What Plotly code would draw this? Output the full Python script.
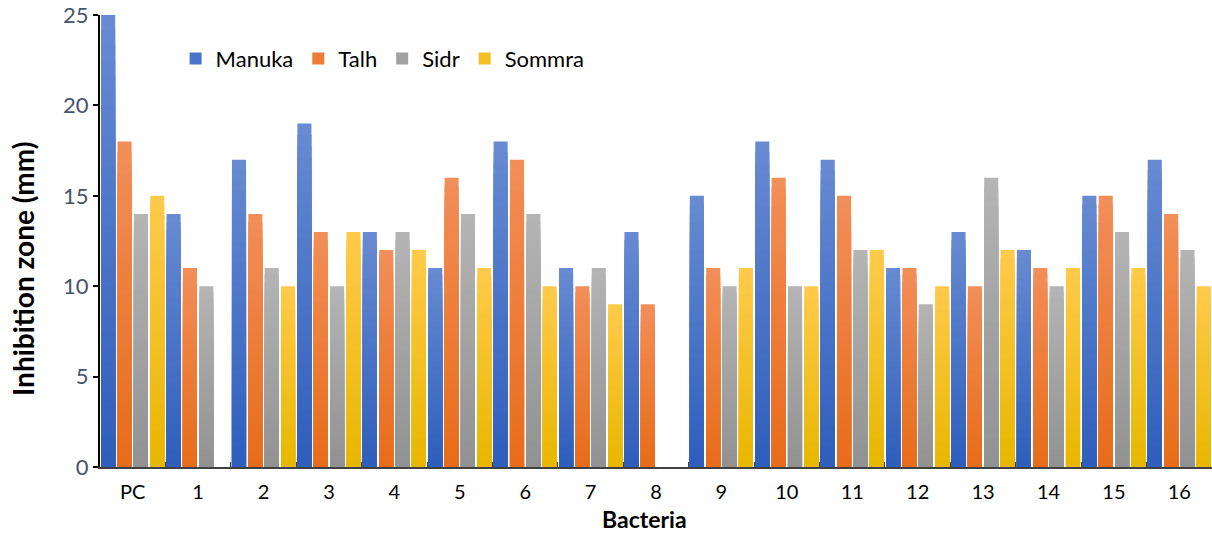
import plotly.graph_objects as go

categories = ["PC", "1", "2", "3", "4", "5", "6", "7", "8", "9", "10", "11", "12", "13", "14", "15", "16"]
manuka = [25, 14, 17, 19, 13, 11, 18, 11, 13, 15, 18, 17, 11, 13, 12, 15, 17]
talh   = [18, 11, 14, 13, 12, 16, 17, 10, 9, 11, 16, 15, 11, 10, 11, 15, 14]
sidr   = [14, 10, 11, 10, 13, 14, 14, 11, None, 10, 10, 12, 9, 16, 10, 13, 12]
sommra = [15, None, 10, 13, 12, 11, 10, 9, None, 11, 10, 12, 10, 12, 11, 11, 10]

x_title = "Bacteria"
y_title = "Inhibition zone (mm)"

# (name, values, top colour, bottom colour) - bars use a vertical gradient
series = [
    ("Manuka", manuka, (103, 138, 210), (46, 95, 188)),
    ("Talh", talh, (242, 142, 88), (232, 108, 26)),
    ("Sidr", sidr, (180, 180, 180), (146, 146, 146)),
    ("Sommra", sommra, (255, 202, 74), (232, 183, 0)),
]

N_BANDS = 30

def mix(c1, c2, t):
    return "rgb(%d,%d,%d)" % tuple(round(a + (b - a) * t) for a, b in zip(c1, c2))

fig = go.Figure()
for name, vals, top, bot in series:
    for j in range(N_BANDS):
        frac = (N_BANDS - j) / N_BANDS
        yv = [None if v is None else v * frac for v in vals]
        fig.add_trace(go.Bar(
            x=categories, y=yv, name=name,
            offsetgroup=name, legendgroup=name,
            showlegend=(j == N_BANDS // 2),
            marker=dict(color=mix(top, bot, j / (N_BANDS - 1)), line=dict(width=0)),
            hoverinfo="skip" if j else "x+y+name",
        ))

font_family = "Lato, 'Open Sans', sans-serif"

fig.update_layout(
    width=1212, height=533,
    margin=dict(l=100, r=0, t=15, b=66),
    paper_bgcolor="white", plot_bgcolor="white",
    barmode="group", bargap=0.0, bargroupgap=0.14,
    font=dict(family=font_family, size=18, color="black"),
    showlegend=True,
    legend=dict(
        orientation="h", x=0.068, y=0.95, xanchor="left", yanchor="top",
        font=dict(size=22, color="black"), bgcolor="rgba(0,0,0,0)",
        traceorder="normal", itemwidth=30,
    ),
    xaxis=dict(
        type="category", showline=True, linecolor="#404040", linewidth=1.5,
        ticks="inside", tickson="boundaries", ticklen=5, tickcolor="#404040",
        tickfont=dict(size=20, color="black"), ticklabelstandoff=6,
        showgrid=False,
    ),
    yaxis=dict(
        range=[0, 25], tickvals=[0, 5, 10, 15, 20, 25],
        ticksuffix="\u00a0\u00a0",
        showline=True, linecolor="black", linewidth=2,
        ticks="outside", ticklen=5, tickcolor="black", tickwidth=1.5,
        tickfont=dict(size=22, color="#44546a"), ticklabelstandoff=0,
        showgrid=False, zeroline=False,
    ),
    annotations=[
        dict(text="<b>%s</b>" % x_title, xref="paper", yref="paper",
             x=(644 - 100) / 1112, y=-(519 - 467) / 452, xanchor="center", yanchor="middle",
             showarrow=False, font=dict(size=23, color="black")),
        dict(text="<b>%s</b>" % y_title, xref="paper", yref="paper",
             x=-(100 - 23) / 1112, y=(467 - 269) / 452, xanchor="center", yanchor="middle",
             textangle=-90, showarrow=False, font=dict(size=28, color="black")),
    ],
)

fig.write_html("out.html")
